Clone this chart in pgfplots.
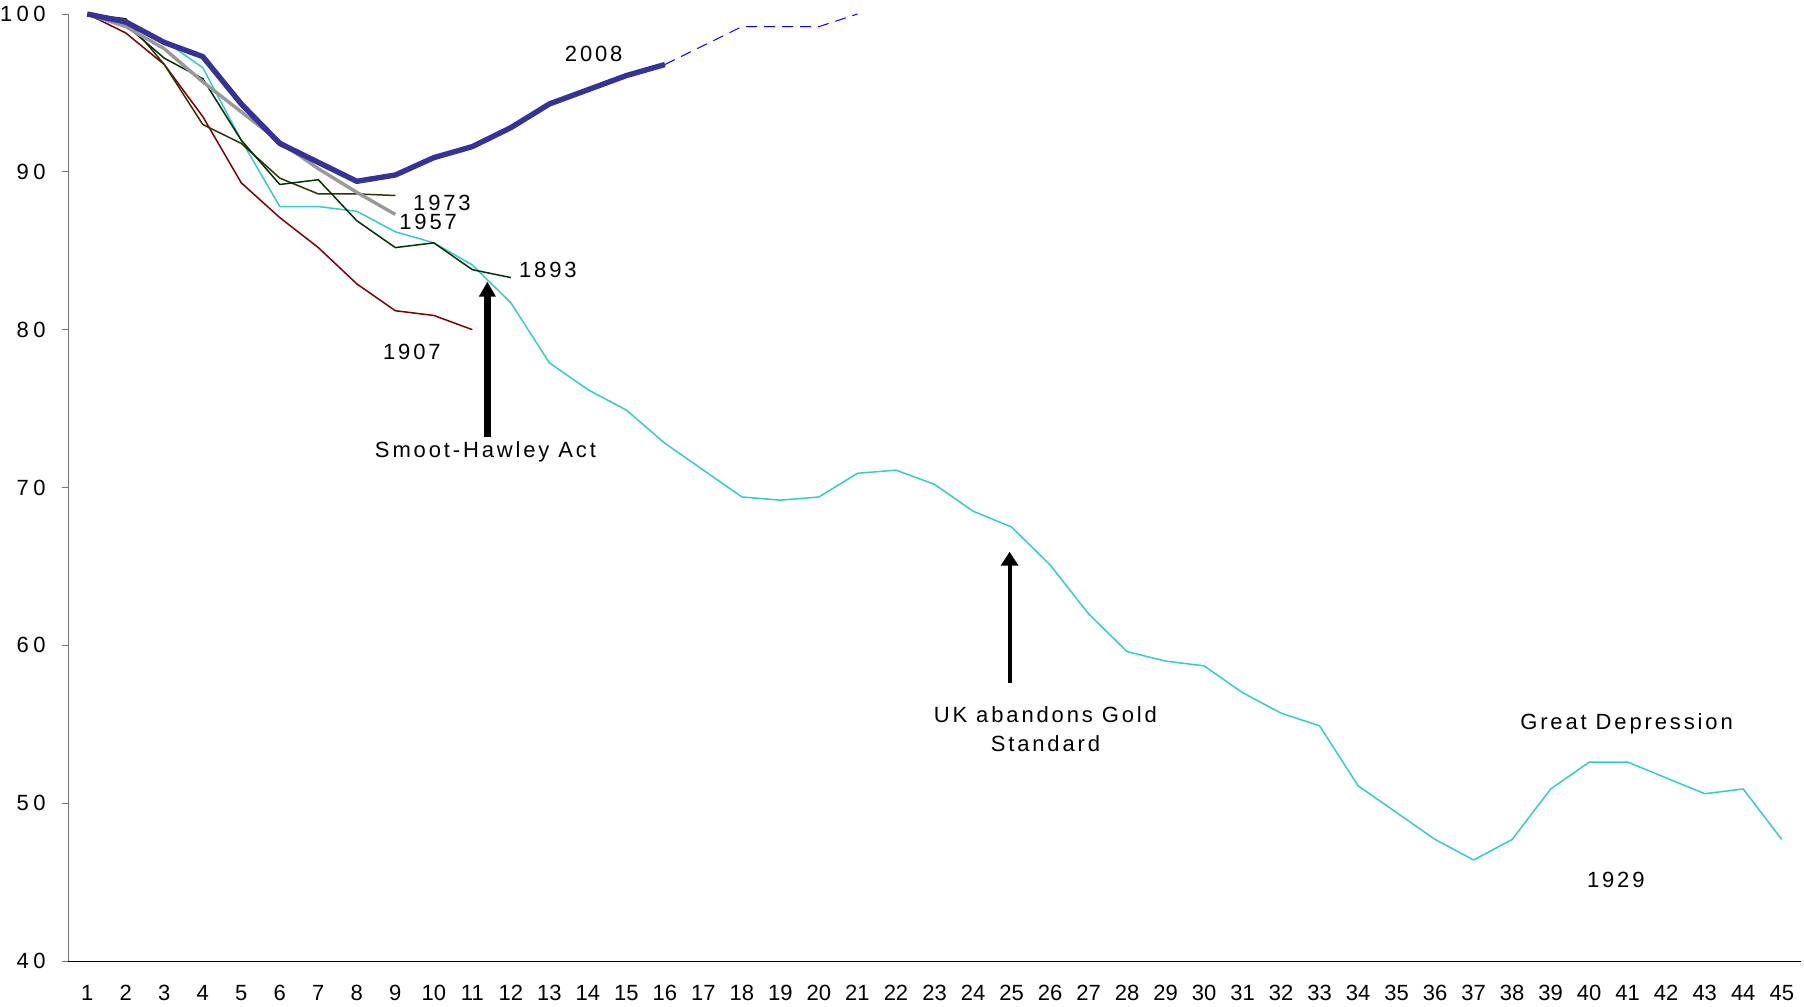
\documentclass[border=0pt]{standalone}
\usepackage{fontspec}
\setmainfont{Liberation Sans}
\newfontfamily\spaced{Liberation Sans}[LetterSpace=13]
\newfontfamily\yspaced{Liberation Sans}[LetterSpace=20]
\usepackage{pgfplots}
\pgfplotsset{compat=1.18}
\usepackage{pgfplotstable}
\usetikzlibrary{arrows.meta}
\definecolor{cA}{HTML}{333399}
\definecolor{cDash}{HTML}{0000FF}
\definecolor{cCyan}{HTML}{33CCCC}
\definecolor{cRed}{HTML}{800000}
\definecolor{cGreen}{HTML}{003300}
\definecolor{cOlive}{HTML}{333300}
\definecolor{cGray}{HTML}{999999}

\pgfplotstableread{
x y
1 100
2 99.5
3 98.2
4 97.3
5 94.3
6 91.8
7 90.6
8 89.4
9 89.8
10 90.9
11 91.6
12 92.8
13 94.3
14 95.2
15 96.1
16 96.8
}\tblA
\pgfplotstableread{
x y
16 96.8
17 98.0
18 99.2
19 99.2
20 99.2
21 100
}\tblDash
\pgfplotstableread{
x y
1 100
2 99.4
3 98.3
4 96.6
5 92.0
6 87.8
7 87.8
8 87.5
9 86.2
10 85.5
11 84.1
12 81.7
13 77.9
14 76.2
15 74.9
16 72.8
17 71.1
18 69.4
19 69.2
20 69.4
21 70.9
22 71.1
23 70.2
24 68.5
25 67.5
26 65.1
27 62.0
28 59.6
29 59.0
30 58.7
31 57.0
32 55.7
33 54.9
34 51.1
35 49.4
36 47.7
37 46.4
38 47.7
39 50.9
40 52.6
41 52.6
42 51.6
43 50.6
44 50.9
45 47.7
}\tblCyan
\pgfplotstableread{
x y
1 100
2 98.8
3 96.8
4 93.5
5 89.3
6 87.1
7 85.2
8 82.9
9 81.2
10 80.9
11 80.0
}\tblRed
\pgfplotstableread{
x y
1 100
2 99.3
3 97.2
4 95.9
5 92.0
6 89.2
7 89.5
8 86.9
9 85.2
10 85.5
11 83.8
12 83.3
}\tblGreen
\pgfplotstableread{
x y
1 100
2 99.7
3 96.8
4 93.0
5 91.8
6 89.6
7 88.6
8 88.6
9 88.5
}\tblOlive
\pgfplotstableread{
x y
1 100
2 99.2
3 97.8
4 95.7
5 93.8
6 91.9
7 90.2
8 88.7
9 87.3
}\tblGray

\begin{document}
\begin{tikzpicture}
\begin{axis}[
  at={(0,0)}, anchor=south west,
  scale only axis, width=866.5bp, height=473.5bp,
  xmin=0.5, xmax=45.5, ymin=40, ymax=100,
  axis x line*=bottom, axis y line*=left,
  axis line style={-},
  y axis line style={black!55},
  xtick={1,...,45}, minor xtick={0.5,1.5,...,45.5},
  ytick={40,50,...,100},
  tick align=outside,
  major tick length=3bp, minor tick length=4bp,
  xtick style={draw=none},
  minor tick style={black, line width=0.5bp},
  ytick style={black!55, line width=0.5bp},
  /pgf/number format/assume math mode=true,
  xticklabel style={font=\fontsize{11bp}{13bp}\selectfont, anchor=north, inner sep=0pt, yshift=-9bp},
  yticklabel style={font=\yspaced\fontsize{11bp}{13bp}\selectfont, anchor=east, inner sep=0pt, xshift=-8bp},
  clip=false,
  every axis plot/.append style={line join=round},
]
\addplot[cCyan, line width=0.75bp] table[x=x,y=y] {\tblCyan};
\addplot[cRed, line width=0.75bp] table[x=x,y=y] {\tblRed};
\addplot[cOlive, line width=0.75bp] table[x=x,y=y] {\tblOlive};
\addplot[cGreen, line width=0.75bp] table[x=x,y=y] {\tblGreen};
\addplot[cGray, line width=1.7bp] table[x=x,y=y] {\tblGray};
\addplot[cDash, line width=0.5bp, dash pattern=on 5.5bp off 3.5bp] table[x=x,y=y] {\tblDash};
\addplot[cA, line width=2.7bp] table[x=x,y=y] {\tblA};

\begin{scope}[every node/.style={font=\spaced\fontsize{11bp}{13bp}\selectfont, inner sep=0pt}]
\node at (axis cs:14.15,97.47) {2008};
\node at (axis cs:10.21,88.02) {1973};
\node at (axis cs:9.85,86.82) {1957};
\node at (axis cs:12.96,83.78) {1893};
\node at (axis cs:9.43,78.58) {1907};
\node at (axis cs:11.34,72.27) {Smoot-Hawley Act};
\node[align=center] at (axis cs:25.88,54.67) {UK abandons Gold\\[1.5bp]Standard};
\node at (axis cs:40.97,55.0) {Great Depression};
\node at (axis cs:40.69,45.13) {1929};
\end{scope}
\draw[line width=3.3bp, -{Triangle[width=8bp,length=7.5bp]}] (axis cs:11.39,73.22) -- (axis cs:11.39,83.04);
\draw[line width=2bp, -{Triangle[width=8.5bp,length=7bp]}] (axis cs:24.95,57.63) -- (axis cs:24.95,65.93);
\end{axis}
\pgfresetboundingbox
\path[use as bounding box] (-34bp,-23bp) rectangle (868bp,480.5bp);
\end{tikzpicture}
\end{document}
